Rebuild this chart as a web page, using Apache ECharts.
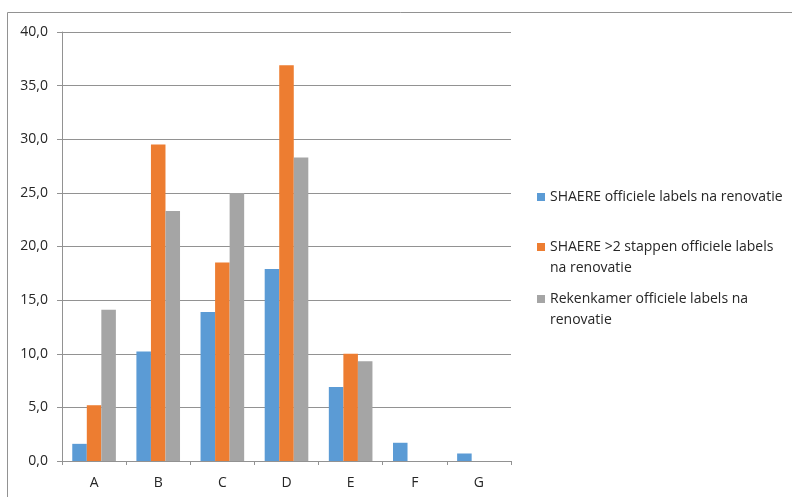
<!DOCTYPE html>
<html>
<head>
<meta charset="utf-8">
<script src="https://cdn.jsdelivr.net/npm/echarts@6/dist/echarts.min.js"></script>
<style>
  html, body { margin: 0; padding: 0; background: #fff; }
  #chart { width: 792px; height: 497px; }
</style>
</head>
<body>
<div id="chart"></div>
<script>
// Energy label categories
const categories = ['A', 'B', 'C', 'D', 'E', 'F', 'G'];

// Series names and values (percentages)
const seriesNames = [
  'SHAERE officiele labels na renovatie',
  'SHAERE >2 stappen officiele labels\nna renovatie',
  'Rekenkamer officiele labels na\nrenovatie'
];
const shaereLabels = [1.6, 10.2, 13.9, 17.9, 6.9, 1.7, 0.7];
const shaereSteps = [5.2, 29.5, 18.5, 36.9, 10.0, null, null];
const rekenkamerLabels = [14.1, 23.3, 25.0, 28.3, 9.3, null, null];

// Y axis range
const yMin = 0, yMax = 40, yStep = 5;

const colors = ['#5B9BD5', '#ED7D31', '#A5A5A5'];
const fontFamily = '"Open Sans", "Liberation Sans", sans-serif';
const textColor = '#262626';
const lineColor = '#929292';

const chart = echarts.init(document.getElementById('chart'), null, { renderer: 'canvas' });

const values = [shaereLabels, shaereSteps, rekenkamerLabels];
// one legend block per series so each entry sits at its own height
const legendTops = [186.5, 215.5, 267.5];

chart.setOption({
  animation: false,
  color: colors,
  grid: { left: 62, right: 281, top: 32, bottom: 36, containLabel: false },
  graphic: [{
    type: 'polyline',
    shape: { points: [[7.5, 500], [7.5, 12.5], [800, 12.5]] },
    style: { stroke: lineColor, lineWidth: 1, fill: null },
    silent: true
  }],
  legend: seriesNames.map((name, i) => ({
    data: [name],
    orient: 'vertical',
    left: 537,
    top: legendTops[i],
    padding: 0,
    itemWidth: 8,
    itemHeight: 8,
    icon: 'rect',
    itemGap: 0,
    selectedMode: false,
    // an empty leading line keeps the marker beside the first line of wrapped names
    formatter: n => (n.indexOf('\n') >= 0 ? ' \n' + n : n),
    textStyle: {
      fontFamily: fontFamily,
      fontSize: 14,
      color: textColor,
      lineHeight: 21
    }
  })),
  xAxis: {
    type: 'category',
    data: categories,
    axisLine: { lineStyle: { color: lineColor, width: 1 } },
    axisTick: { show: true, length: 4, alignWithLabel: false, lineStyle: { color: lineColor } },
    axisLabel: { fontFamily: fontFamily, fontSize: 14, color: textColor, margin: 15 },
    splitLine: { show: false }
  },
  yAxis: {
    type: 'value',
    min: yMin,
    max: yMax,
    interval: yStep,
    axisLine: { show: true, lineStyle: { color: lineColor, width: 1 } },
    axisTick: { show: true, length: 5, lineStyle: { color: lineColor } },
    axisLabel: {
      fontFamily: fontFamily,
      fontSize: 14,
      color: textColor,
      margin: 14,
      formatter: v => v.toFixed(1).replace('.', ',')
    },
    splitLine: { show: true, lineStyle: { color: lineColor, width: 1 } }
  },
  series: seriesNames.map((name, i) => ({
    name: name,
    type: 'bar',
    data: values[i],
    barGap: '0%',
    barCategoryGap: '32%',
    itemStyle: { color: colors[i] }
  }))
});
</script>
</body>
</html>
